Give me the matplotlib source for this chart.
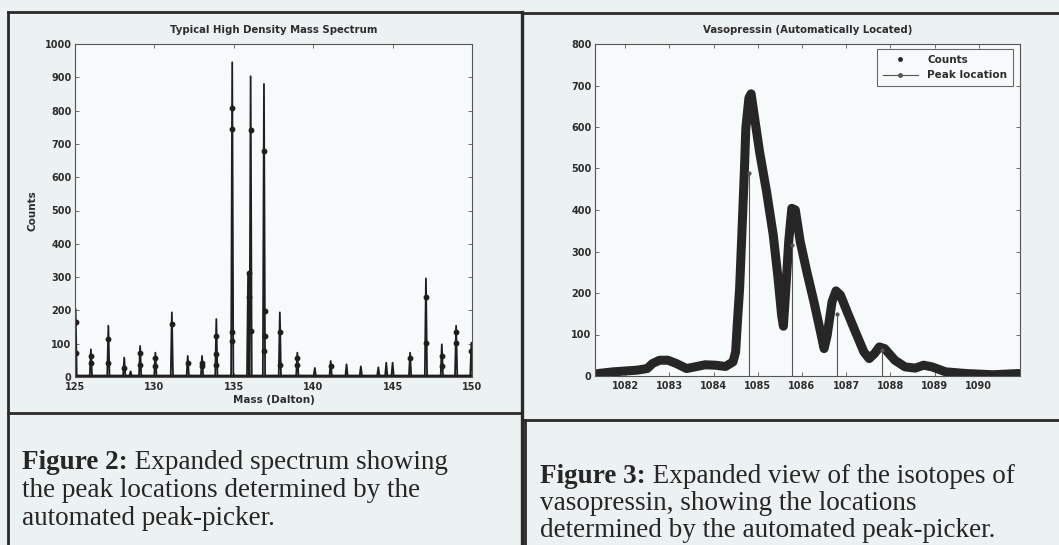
import numpy as np
import matplotlib
matplotlib.use('Agg')
import matplotlib.pyplot as plt
from matplotlib.lines import Line2D

# --- left panel: typical high density mass spectrum ---
peak_mass = [125.04, 126.0, 127.1, 128.1, 128.5, 129.1, 130.06, 131.1, 132.1, 133.0,
             133.9, 134.9, 135.9, 136.06, 136.9, 137.9, 139.0, 140.1, 141.1, 142.1,
             143.0, 144.1, 144.6, 145.0, 146.1, 147.1, 148.1, 149.0, 149.96]
peak_counts = [204, 83, 154, 58, 17, 93, 73, 194, 63, 63,
               174, 945, 310, 903, 880, 194, 73, 27, 48, 38,
               32, 29, 43, 43, 73, 296, 98, 154, 103]
base_counts = 4

picked_mass = [125.04, 125.04, 126.0, 126.0, 127.1, 127.1, 128.1, 129.1, 129.1,
               130.06, 130.06, 131.1, 132.1, 133.0, 133.0, 133.9, 133.9, 133.9,
               134.9, 134.9, 134.9, 134.9, 136.06, 135.95, 135.95, 136.06,
               136.9, 136.95, 136.95, 136.9, 137.9, 137.9, 139.0, 139.0, 141.1,
               146.1, 147.1, 147.1, 148.1, 148.1, 149.0, 149.0, 149.96]
picked_counts = [164, 73, 63, 43, 115, 43, 27, 73, 37,
                 58, 32, 159, 43, 43, 32, 123, 68, 37,
                 807, 744, 134, 108, 741, 311, 240, 139,
                 678, 199, 123, 78, 134, 37, 58, 37, 32,
                 58, 240, 103, 63, 32, 134, 103, 78]

# --- right panel: vasopressin isotope cluster ---
vaso_mass = [1081.39, 1081.73, 1082.27, 1082.5, 1082.62, 1082.78, 1082.97, 1083.16,
             1083.39, 1083.58, 1083.81, 1084.04, 1084.27, 1084.44, 1084.5, 1084.54,
             1084.59, 1084.64, 1084.67, 1084.7, 1084.73, 1084.8, 1084.85, 1084.93,
             1085.04, 1085.2, 1085.35, 1085.46, 1085.54, 1085.58, 1085.64, 1085.7,
             1085.77, 1085.85, 1085.96, 1086.11, 1086.27, 1086.42, 1086.5, 1086.57,
             1086.68, 1086.77, 1086.87, 1087.02, 1087.21, 1087.4, 1087.52, 1087.64,
             1087.75, 1087.87, 1088.1, 1088.33, 1088.56, 1088.75, 1088.94, 1089.25,
             1089.71, 1090.32, 1090.9]
vaso_counts = [6, 10, 14, 18, 30, 38, 38, 30,
               18, 22, 27, 26, 23, 34, 58, 130,
               211, 340, 420, 500, 597, 670, 680, 621,
               541, 444, 340, 235, 146, 120, 219, 324,
               404, 400, 324, 251, 179, 106, 66, 98,
               179, 205, 195, 155, 106, 58, 42, 54,
               70, 66, 38, 22, 19, 26, 22, 10,
               6, 3, 6]
loc_mass = [1084.8, 1085.78, 1086.79, 1087.81]
loc_counts = [488, 315, 150, 62]

W, H = 1059, 545
page = '#ecf1f2'
ink = '#2e2e2e'
plt.rcParams['font.family'] = ['DejaVu Sans']

fig = plt.figure(figsize=(W / 100, H / 100), dpi=100, facecolor=page)


def rect(l, t, r, b):
    return [l / W, 1 - b / H, (r - l) / W, (b - t) / H]


def hline(y, x0, x1, lw=2.0):
    fig.add_artist(Line2D([x0 / W, x1 / W], [1 - y / H, 1 - y / H],
                          transform=fig.transFigure, color='#2a2a2a', lw=lw))


def vline(x, y0, y1, lw=2.0):
    fig.add_artist(Line2D([x / W, x / W], [1 - y0 / H, 1 - y1 / H],
                          transform=fig.transFigure, color='#2a2a2a', lw=lw))


def style_axes(ax):
    ax.set_facecolor('#f7fafa')
    for s in ax.spines.values():
        s.set_color('#555555')
        s.set_linewidth(0.8)
    ax.tick_params(direction='in', top=True, right=True, length=3, width=0.6,
                   labelsize=7, colors='#555555', labelcolor=ink, pad=2.5)
    ax.tick_params(axis='x', pad=3.5)
    for lab in ax.get_xticklabels() + ax.get_yticklabels():
        lab.set_fontweight('bold')


# left spectrum
ax1 = fig.add_axes(rect(75, 44, 472, 377))
trace_x, trace_y = [125.0], [base_counts]
for m, c in sorted(zip(peak_mass, peak_counts)):
    trace_x += [m - 0.07, m, m + 0.07]
    trace_y += [base_counts, c, base_counts]
trace_x.append(150.0)
trace_y.append(base_counts)
ax1.plot(trace_x, trace_y, color='#1e1e1e', lw=1.3)
ax1.plot([125, 150], [base_counts, base_counts], color='#1e1e1e', lw=2.4)
ax1.plot(picked_mass, picked_counts, 'o', color='#1e1e1e', ms=3.2)
ax1.set_xlim(125, 150)
ax1.set_ylim(0, 1000)
ax1.set_xticks(np.arange(125, 151, 5))
ax1.set_yticks(np.arange(0, 1001, 100))
style_axes(ax1)
ax1.set_title('Typical High Density Mass Spectrum', fontsize=7.3, fontweight='bold',
              color=ink, pad=8)
ax1.set_xlabel('Mass (Dalton)', fontsize=7.5, fontweight='bold', color=ink, labelpad=2)
ax1.set_ylabel('Counts', fontsize=7.5, fontweight='bold', color=ink, labelpad=5)

# right vasopressin cluster
ax2 = fig.add_axes(rect(595, 44, 1020, 376))
ax2.plot(vaso_mass, vaso_counts, color='#262626', lw=6.5, solid_capstyle='round',
         solid_joinstyle='round')
ax2.plot(vaso_mass, vaso_counts, '.', color='#262626', ms=5, label='Counts')
ax2.vlines(loc_mass, 0, loc_counts, color='#555555', lw=0.8)
ax2.plot(loc_mass, loc_counts, '.', color='#555555', ms=4)
ax2.plot([], [], '-', color='#555555', lw=0.8, marker='.', markevery=[1],
         ms=5, label='Peak location')
ax2.set_xlim(1081.32, 1090.93)
ax2.set_ylim(0, 800)
ax2.set_xticks(np.arange(1082, 1091, 1))
ax2.set_yticks(np.arange(0, 801, 100))
style_axes(ax2)
ax2.set_title('Vasopressin (Automatically Located)', fontsize=7.3, fontweight='bold',
              color=ink, pad=8)
leg = ax2.legend(loc='upper right', bbox_to_anchor=(0.984, 0.985), borderaxespad=0,
                 fancybox=False, edgecolor='#444444', handlelength=3.4,
                 borderpad=0.55, labelspacing=0.55, handletextpad=0.9,
                 prop={'weight': 'bold', 'size': 7.5})
leg.get_frame().set_linewidth(0.8)
leg.get_frame().set_facecolor('#f7fafa')
for t in leg.get_texts():
    t.set_color(ink)

# frames around the figure panels
hline(12, 7.5, 521.5)
vline(7.5, 12, 545)
vline(521.5, 12, 545, lw=2.4)
hline(413, 7.5, 521.5)
hline(13, 523, 1059)
hline(420, 523, 1059)
vline(525, 420, 545)

# captions
serif = ['Liberation Serif', 'DejaVu Serif']
fs = 19.5
cap = dict(fontsize=fs, color='#262626', family=serif, va='baseline', ha='left')


def caption(x, y, head, rest, lines, step):
    t = fig.text(x / W, 1 - y / H, head, fontweight='bold', **cap)
    ax1.annotate(rest, xy=(1, 0), xycoords=t, va='bottom', ha='left',
                 fontsize=fs, color='#262626', family=serif)
    for i, s in enumerate(lines):
        fig.text(x / W, 1 - (y + step * (i + 1)) / H, s, **cap)


caption(22, 469, 'Figure 2:', ' Expanded spectrum showing',
        ['the peak locations determined by the', 'automated peak-picker.'], 28)
caption(540, 483, 'Figure 3:', ' Expanded view of the isotopes of',
        ['vasopressin, showing the locations', 'determined by the automated peak-picker.'], 27)

fig.savefig('out.png', dpi=100, facecolor=page)
